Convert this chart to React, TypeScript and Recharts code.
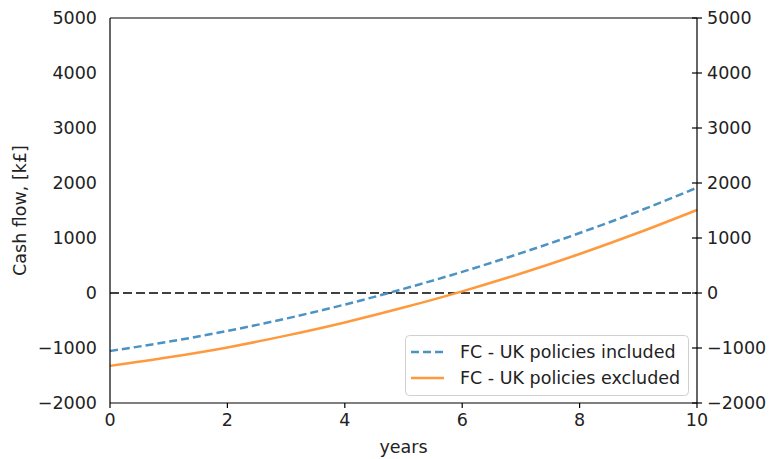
import { LineChart, Line, XAxis, YAxis, ReferenceLine, Legend, Label } from 'recharts'

const years = [0, 1, 2, 3, 4, 5, 6, 7, 8, 9, 10]
const policiesIncluded = [-1055, -885, -690, -465, -210, 75, 385, 725, 1090, 1485, 1915]
const policiesExcluded = [-1325, -1170, -990, -775, -535, -265, 30, 355, 710, 1095, 1510]
const xTicks = [0, 2, 4, 6, 8, 10]
const yTicks = [-2000, -1000, 0, 1000, 2000, 3000, 4000, 5000]

const BLUE = '#4c92c3'
const ORANGE = '#ff993e'
const FONT = '"DejaVu Sans", sans-serif'
const FS = 17.5
const TXT = '#222'

const data = years.map((year, i) => ({
  year,
  included: policiesIncluded[i],
  excluded: policiesExcluded[i],
}))

const fmt = (v: number) => (v < 0 ? `\u2212${Math.abs(v)}` : `${v}`)

// matplotlib-style tick on the twin axis: crosses the spine
const RightTick = ({ x, y, payload }: any) => (
  <g>
    <line x1={x - 15} x2={x - 5} y1={y} y2={y} stroke="#000" strokeWidth={1.2} />
    <text x={x} y={y} dy="0.36em" textAnchor="start" fill={TXT} fontSize={FS} fontFamily={FONT}>
      {fmt(payload.value)}
    </text>
  </g>
)

const YLabel = ({ viewBox }: any) => {
  const cx = 20
  const cy = viewBox.y + viewBox.height / 2
  return (
    <text
      x={cx}
      y={cy}
      transform={`rotate(-90, ${cx}, ${cy})`}
      textAnchor="middle"
      dominantBaseline="central"
      fill={TXT}
      fontSize={FS}
      fontFamily={FONT}
    >
      Cash flow, [k£]
    </text>
  )
}

const legendItems = [
  { label: 'FC - UK policies included', color: BLUE, dash: '8 4' },
  { label: 'FC - UK policies excluded', color: ORANGE, dash: undefined },
]

const LegendBox = () => (
  <svg width={284} height={61} style={{ display: 'block' }}>
    <rect x={0.5} y={0.5} width={283} height={60} rx={4} fill="rgba(255,255,255,0.8)" stroke="#d0d0d0" />
    {legendItems.map((item, i) => (
      <g key={item.label}>
        <line
          x1={6}
          x2={39}
          y1={17 + i * 26}
          y2={17 + i * 26}
          stroke={item.color}
          strokeWidth={2.5}
          strokeDasharray={item.dash}
        />
        <text x={55} y={17 + i * 26} dy="0.36em" fill={TXT} fontSize={FS} fontFamily={FONT}>
          {item.label}
        </text>
      </g>
    ))}
  </svg>
)

export default function App() {
  return (
    <div style={{ position: 'absolute', left: 0, top: 0 }}>
      <LineChart width={769} height={459} data={data} margin={{ top: 18, right: 0, bottom: 0, left: 0 }}>
        <XAxis
          dataKey="year"
          type="number"
          domain={[0, 10]}
          ticks={xTicks}
          height={56}
          tickSize={5}
          tickMargin={6}
          axisLine={{ stroke: '#000', strokeWidth: 1.2 }}
          tickLine={{ stroke: '#000', strokeWidth: 1.2 }}
          tick={{ fill: TXT, fontSize: FS, fontFamily: FONT }}
        >
          <Label value="years" position="insideBottom" offset={6} fill={TXT} fontSize={FS} fontFamily={FONT} />
        </XAxis>
        <YAxis
          yAxisId="left"
          type="number"
          domain={[-2000, 5000]}
          ticks={yTicks}
          width={110}
          tickLine={false}
          tickSize={6}
          tickMargin={7}
          tickFormatter={fmt}
          axisLine={{ stroke: '#000', strokeWidth: 1.2 }}
          tick={{ fill: TXT, fontSize: FS, fontFamily: FONT }}
          label={<YLabel />}
        />
        <YAxis
          yAxisId="right"
          orientation="right"
          type="number"
          domain={[-2000, 5000]}
          ticks={yTicks}
          width={72}
          tickLine={false}
          tickSize={5}
          tickMargin={5}
          axisLine={{ stroke: '#000', strokeWidth: 1.2 }}
          tick={<RightTick />}
        />
        <ReferenceLine yAxisId="left" y={5000} stroke="#000" strokeWidth={1.2} />
        <ReferenceLine yAxisId="left" y={0} stroke="#404040" strokeWidth={2.2} strokeDasharray="9 4" />
        <Line
          yAxisId="left"
          type="monotone"
          dataKey="included"
          stroke={BLUE}
          strokeWidth={2.5}
          strokeDasharray="8 4"
          dot={false}
          isAnimationActive={false}
        />
        <Line
          yAxisId="right"
          type="monotone"
          dataKey="excluded"
          stroke={ORANGE}
          strokeWidth={2.5}
          dot={false}
          isAnimationActive={false}
        />
        <Legend
          layout="vertical"
          align="center"
          verticalAlign="middle"
          content={<LegendBox />}
          wrapperStyle={{ position: 'absolute', left: 405, top: 335, width: 284, height: 61 }}
        />
      </LineChart>
    </div>
  )
}
